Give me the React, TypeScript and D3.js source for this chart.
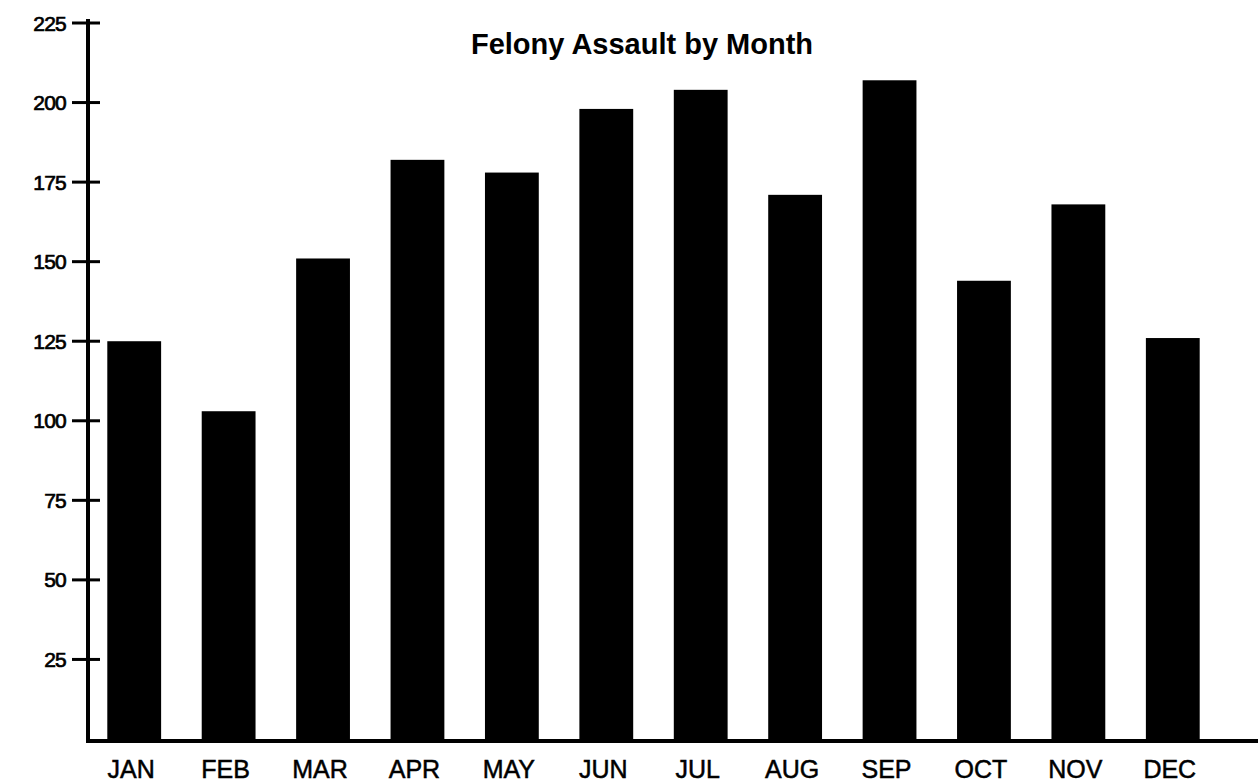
import React from "react";
import * as d3 from "d3";

const months = ["JAN", "FEB", "MAR", "APR", "MAY", "JUN", "JUL", "AUG", "SEP", "OCT", "NOV", "DEC"];
const assaults = [125, 103, 151, 182, 178, 198, 204, 171, 207, 144, 168, 126];
const yTicks = [25, 50, 75, 100, 125, 150, 175, 200, 225];
const title = "Felony Assault by Month";

const W = 1258;
const H = 784;

export default function App() {
  const x = d3.scaleBand<string>().domain(months).range([87, 1220]).paddingInner(0.43).paddingOuter(0.215);
  const y = d3.scaleLinear().domain([0, 225]).range([739, 23]);
  const axisX = 88;
  const baseY = 741;
  const font = "'Liberation Sans', Arial, Helvetica, sans-serif";

  return (
    <svg width={W} height={H} style={{ position: "absolute", left: 0, top: 0, background: "#fff" }}>
      <rect x={0} y={0} width={W} height={H} fill="#fff" />
      <text x={642} y={54} textAnchor="middle" fontFamily={font} fontWeight="bold" fontSize={29} fill="#000">
        {title}
      </text>
      {months.map((m, i) => (
        <rect key={m} x={x(m)!} y={y(assaults[i])} width={x.bandwidth()} height={baseY - y(assaults[i])} fill="#000" />
      ))}
      <line x1={axisX} x2={axisX} y1={y(225) - 4} y2={baseY + 2} stroke="#000" strokeWidth={4} />
      <line x1={axisX - 2} x2={W} y1={baseY} y2={baseY} stroke="#000" strokeWidth={4} />
      {yTicks.map((t) => (
        <g key={t}>
          <line x1={72} x2={100} y1={y(t)} y2={y(t)} stroke="#000" strokeWidth={3} />
          <text x={66} y={y(t)} dy="0.36em" textAnchor="end" fontFamily={font} fontSize={21} letterSpacing={-0.8} stroke="#000" strokeWidth={0.7} fill="#000">
            {t}
          </text>
        </g>
      ))}
      {months.map((m) => (
        <text key={m} x={x(m)! + x.bandwidth() / 2 - 3} y={778} textAnchor="middle" fontFamily={font} fontSize={25} stroke="#000" strokeWidth={0.5} fill="#000">
          {m}
        </text>
      ))}
    </svg>
  );
}
